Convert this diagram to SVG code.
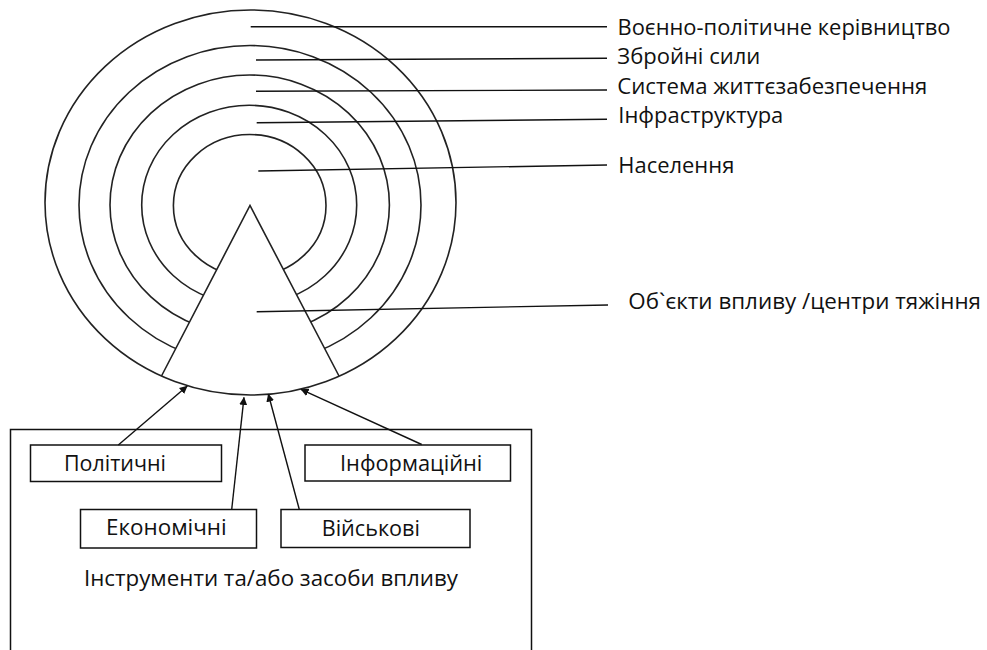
<svg xmlns="http://www.w3.org/2000/svg" width="987" height="650" viewBox="0 0 987 650">
<defs>
<style>
.ring{fill:none;stroke:#222;stroke-width:1.6}
.lead{fill:none;stroke:#111;stroke-width:1.4}
.box{fill:#fff;stroke:#111;stroke-width:1.5}
.arr{fill:none;stroke:#111;stroke-width:1.4;marker-end:url(#ah)}
.t{font-family:"Open Sans","Noto Sans","DejaVu Sans",sans-serif;font-size:21px;fill:#111}
</style>
<marker id="ah" viewBox="0 0 10 10" refX="9.5" refY="5" markerWidth="8" markerHeight="8" markerUnits="userSpaceOnUse" orient="auto">
<path d="M0,0 L10,5 L0,10 z" fill="#111"/>
</marker>
</defs>
<rect width="987" height="650" fill="#fff"/>
<g id="rings">
<ellipse id="ring2" class="ring" cx="250" cy="205" rx="171" ry="159.5"/>
<ellipse id="ring3" class="ring" cx="249.7" cy="205" rx="139.7" ry="130"/>
<ellipse id="ring4" class="ring" cx="249.2" cy="205" rx="107.5" ry="99.7"/>
<ellipse id="ring5" class="ring" cx="249.7" cy="205.5" rx="76.3" ry="71"/>
</g>
<g id="triangle">
<polygon points="250,205.5 161.5,376 339,376" fill="#fff" stroke="none"/>
<polyline class="ring" points="161.5,376 250,205.5 339,376"/>
</g>
<ellipse id="ring1" class="ring" cx="250.5" cy="202.5" rx="205.5" ry="192.5"/>
<g id="leaders">
<line class="lead" x1="250.7" y1="26.7" x2="607" y2="26.7"/>
<line class="lead" x1="256" y1="60" x2="607" y2="58.3"/>
<line class="lead" x1="256" y1="91.3" x2="607" y2="90"/>
<line class="lead" x1="256.7" y1="122.7" x2="607" y2="119.3"/>
<line class="lead" x1="258.3" y1="171" x2="607" y2="165"/>
<line class="lead" x1="256.7" y1="311.7" x2="608" y2="305"/>
</g>
<g id="labels">
<text class="t" x="617.5" y="34.5" textLength="333" lengthAdjust="spacingAndGlyphs">Воєнно-політичне керівництво</text>
<text class="t" x="617.3" y="64" textLength="143" lengthAdjust="spacingAndGlyphs">Збройні сили</text>
<text class="t" x="617.3" y="94" textLength="310" lengthAdjust="spacingAndGlyphs">Система життєзабезпечення</text>
<text class="t" x="618.3" y="123" textLength="165" lengthAdjust="spacingAndGlyphs">Інфраструктура</text>
<text class="t" x="618.3" y="173" textLength="116" lengthAdjust="spacingAndGlyphs">Населення</text>
<text class="t" x="628.3" y="308.5" textLength="352.7" lengthAdjust="spacingAndGlyphs">Об`єкти впливу /центри тяжіння</text>
</g>
<g id="instruments">
<rect class="box" x="10.5" y="429.5" width="521" height="240"/>
<text class="t" x="84" y="585.5" textLength="374" lengthAdjust="spacingAndGlyphs">Інструменти та/або засоби впливу</text>
</g>
<g id="political">
<rect class="box" x="30.5" y="445" width="191" height="36.5"/>
<text class="t" x="64" y="470.5" textLength="102" lengthAdjust="spacingAndGlyphs">Політичні</text>
</g>
<g id="information">
<rect class="box" x="305" y="445" width="205.5" height="36"/>
<text class="t" x="340" y="470.5" textLength="142.3" lengthAdjust="spacingAndGlyphs">Інформаційні</text>
</g>
<g id="economic">
<rect class="box" x="80.5" y="509.5" width="176" height="38.5"/>
<text class="t" x="106" y="535" textLength="120.7" lengthAdjust="spacingAndGlyphs">Економічні</text>
</g>
<g id="military">
<rect class="box" x="281" y="509.5" width="189" height="38"/>
<text class="t" x="321.7" y="535.5" textLength="98.3" lengthAdjust="spacingAndGlyphs">Військові</text>
</g>
<g id="connectors">
<line class="arr" x1="118.3" y1="445" x2="187.3" y2="386"/>
<line class="arr" x1="231.7" y1="509.5" x2="244" y2="397.3"/>
<line class="arr" x1="299.3" y1="509.5" x2="268.3" y2="394"/>
<line class="arr" x1="421.7" y1="444.5" x2="301" y2="389.3"/>
</g>
</svg>
